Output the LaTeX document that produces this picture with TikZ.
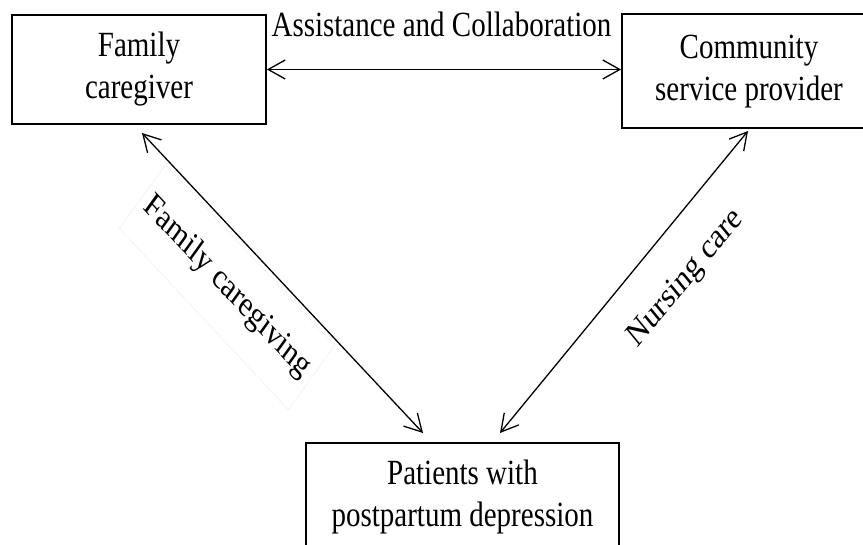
\documentclass[tikz,border=0pt]{standalone}
\usepackage{graphicx}
\usepackage{fontspec}
\setmainfont{Liberation Serif}
\usetikzlibrary{arrows.meta}
\newcommand\vstr[1]{\scalebox{1}[1.22]{\fontsize{29}{34.4}\selectfont\begin{tabular}{@{}c@{}}#1\end{tabular}}}
\begin{document}
\begin{tikzpicture}[x=1pt,y=-1pt,
  box/.style={draw, line width=1.8pt, inner sep=0pt},
  conn/.style={line width=1.3pt, {Straight Barb[length=17pt,width=19pt]}-{Straight Barb[length=17pt,width=19pt]}},
  lbl/.style={inner sep=2pt, font=\fontsize{29}{34.4}\selectfont}]
\useasboundingbox (0,0) rectangle (863,545);
\fill[white] (0,0) rectangle (863,545);
\clip (0,0) rectangle (863,545);
% boxes
\node[box, minimum width=254pt, minimum height=109pt] (fam) at (139,69.5) {\vstr{Family\\caregiver}};
\node[box, minimum width=254pt, minimum height=114pt] (comm) at (749,71) {\raisebox{3pt}{\vstr{Community\\service provider}}};
\node[box, minimum width=313pt, minimum height=109pt] (pat) at (462.5,497.5) {\vstr{Patients with\\postpartum depression}};
% connector ends
\coordinate (a1) at (142,133);
\coordinate (a2) at (423,433);
\coordinate (b1) at (748,131);
\coordinate (b2) at (500,433);
% connectors
\draw[conn] (fam.east) -- (fam.east -| comm.west);
\draw[conn] (a1) -- (a2);
\draw[conn] (b1) -- (b2);
% labels
\node[lbl, anchor=base] (assist) at (441.5,37) {\scalebox{1}[1.22]{Assistance and Collaboration}};
\node[lbl, yscale=1.22, rotate=-41.3, draw=gray!22, densely dotted, line width=0.6pt, minimum height=70pt, minimum width=225pt] (fcg) at (227,287) {Family caregiving};
\node[lbl, yscale=1.22, rotate=45] (nc) at (686,279) {Nursing care};
\end{tikzpicture}
\end{document}
